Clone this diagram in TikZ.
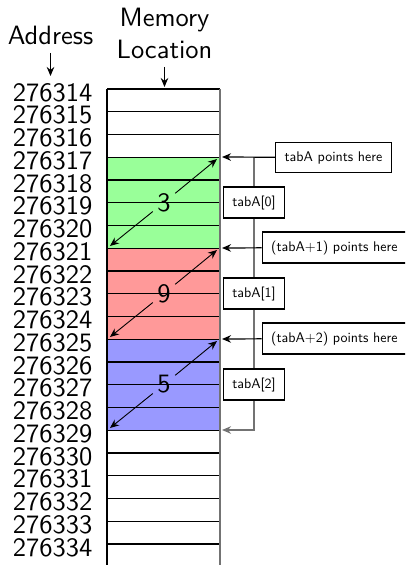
\documentclass[tikz,border=0pt]{standalone}
\usepackage{fontspec}
\setsansfont{lmsans10-regular.otf}
\usepackage{tikz}
\usetikzlibrary{positioning,arrows.meta}
\renewcommand{\familydefault}{\sfdefault}

\tikzset{
	addr/.style={anchor=east, inner sep=0pt, font=\fontsize{26.5}{26.5}\selectfont},
	big/.style={inner sep=4pt, align=center, font=\fontsize{26.5}{32}\selectfont},
	note/.style={draw, fill=white, line width=1.2pt, inner xsep=9pt, inner ysep=8.5pt, font=\fontsize{14}{14}\selectfont},
}

\begin{document}
\begin{tikzpicture}[x=1pt, y=-1pt, line width=1.2pt, >={Stealth[length=9pt,width=7.5pt]}]
		\clip (0,0) rectangle (405,565);
		\fill[green!40] (107,157) rectangle (220,248);
		\fill[red!40] (107,248) rectangle (220,339);
		\fill[blue!40] (107,339) rectangle (220,430);
		\foreach \i in {0,...,20} {
			\pgfmathtruncatemacro{\lo}{14+\i}
			\draw (107,89+22.75*\i) -- (220,89+22.75*\i);
			\node[addr] (a\i) at (93,92.5+22.75*\i) {2763\lo};
		}
		\draw (107,89) -- (107,570);
		\draw[black!55] (220,89) -- (220,570);
		% headings
		\node[big] (addrhead) at (50.5,35) {Address};
		\node[big] (memhead) at (164.5,33) {Memory\\Location};
		\coordinate (addrtop) at (50.5,76);
		\coordinate (coltop) at (164.5,87);
		\draw[->] (addrhead.south) ++(0,4) -- (addrtop);
		\draw[->] (memhead.south) ++(0,4) -- (coltop);
		% values
		\node[big] (v0) at (164,202.5) {3};
		\node[big] (v1) at (164,293.5) {9};
		\node[big] (v2) at (164,384.5) {5};
		\foreach \j/\top in {0/157,1/248,2/339} {
			\coordinate (ne\j) at (217,\top+2);
			\coordinate (sw\j) at (110,\top+89);
			\draw[->, line width=0.9pt] (v\j) -- (ne\j);
			\draw[->, line width=0.9pt] (v\j) -- (sw\j);
		}
		% pointers
		\coordinate (p0) at (222,157);
		\coordinate (p1) at (222,248);
		\coordinate (p2) at (222,339);
		\coordinate (p3) at (222,430);
		\coordinate (g0) at (254,157);
		\coordinate (g3) at (254,430);
		\node[note] (t0) at (254,202.5) {tabA[0]};
		\node[note] (t1) at (254,293.5) {tabA[1]};
		\node[note] (t2) at (254,384.5) {tabA[2]};
		\draw[black!55, ->] (g0) -- (t0) -- (t1) -- (t2) -- (g3) -- (p3);
		\node[note] (t0) at (254,202.5) {tabA[0]};
		\node[note] (t1) at (254,293.5) {tabA[1]};
		\node[note] (t2) at (254,384.5) {tabA[2]};
		\node[note, anchor=west] (h0) at (275,157.5) {tabA points here};
		\node[note, anchor=west] (h1) at (261.5,247.5) {(tabA+1) points here};
		\node[note, anchor=west] (h2) at (261.5,338.5) {(tabA+2) points here};
		\draw[->] (h0) -- (p0);
		\draw[->] (h1) -- (p1);
		\draw[->] (h2) -- (p2);
	\end{tikzpicture}
\end{document}
